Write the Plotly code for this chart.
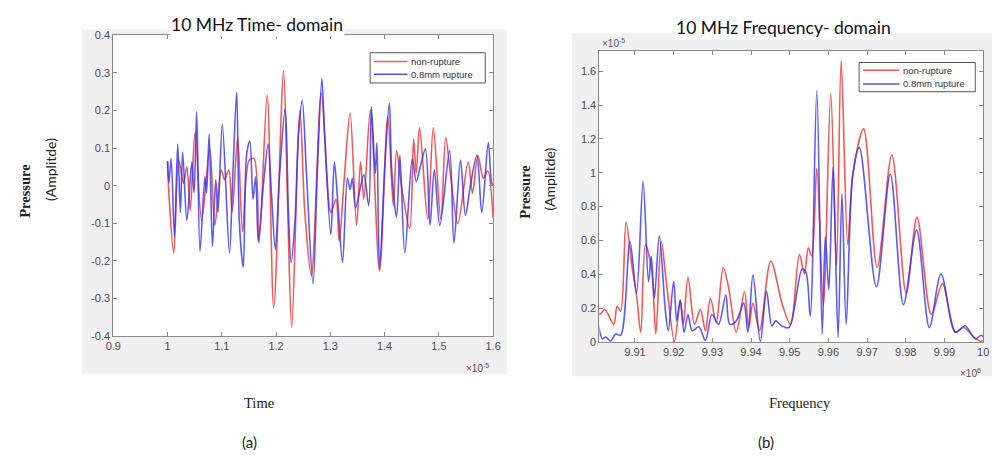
import plotly.graph_objects as go

# ---------------- data: time domain (time in units of 1e-5 s) ----------------
t_red = [1.000, 1.0024, 1.0115, 1.0205, 1.0296, 1.0356, 1.0417, 1.0507, 1.0628, 1.0779,
         1.0870, 1.0990, 1.1051, 1.1129, 1.1190, 1.1292, 1.1383, 1.1504, 1.1594, 1.1685,
         1.1836, 1.1957, 1.2138, 1.2216, 1.2289, 1.2440, 1.2530, 1.2651, 1.2832, 1.2983,
         1.3013, 1.3104, 1.3164, 1.3255, 1.3364, 1.3484, 1.3557, 1.3617, 1.3738, 1.3907,
         1.4058, 1.4161, 1.4221, 1.4312, 1.4463, 1.4535, 1.4583, 1.4644, 1.4795, 1.4897,
         1.5036, 1.5127, 1.5217, 1.5350, 1.5540, 1.5620, 1.5720, 1.5820, 1.5900, 1.6000]
p_red = [0.065, -0.019, -0.179, 0.068, 0.007, 0.050, -0.066, 0.141, -0.092, 0.098,
         -0.105, 0.042, 0.016, 0.042, -0.071, 0.128, -0.122, 0.068, 0.072, -0.153,
         0.240, -0.325, 0.305, -0.070, -0.377, 0.200, -0.071, -0.239, 0.245, -0.058,
         -0.071, -0.036, -0.148, 0.016, 0.193, -0.105, 0.063, -0.036, 0.201, -0.226,
         0.184, -0.053, 0.093, -0.001, -0.114, 0.124, 0.033, 0.154, -0.088, 0.154,
         -0.088, 0.128, 0.025, -0.100, 0.063, -0.020, 0.080, 0.020, 0.040, -0.085]

t_blue = [1.000, 1.0024, 1.0066, 1.0127, 1.0187, 1.0236, 1.0278, 1.0356, 1.0447, 1.0489,
          1.0537, 1.0598, 1.0688, 1.0719, 1.0767, 1.0827, 1.0888, 1.0930, 1.1009, 1.1141,
          1.1202, 1.1274, 1.1323, 1.1395, 1.1456, 1.1516, 1.1576, 1.1624, 1.1673, 1.1775,
          1.1854, 1.1914, 1.1987, 1.2059, 1.2168, 1.2228, 1.2277, 1.2349, 1.2410, 1.2482,
          1.2560, 1.2681, 1.2760, 1.2844, 1.2893, 1.3010, 1.3074, 1.3134, 1.3225, 1.3315,
          1.3364, 1.3406, 1.3466, 1.3617, 1.3708, 1.3756, 1.3829, 1.3859, 1.3907, 1.4010,
          1.4088, 1.4131, 1.4221, 1.4282, 1.4372, 1.4511, 1.4583, 1.4656, 1.4753, 1.4837,
          1.4916, 1.5018, 1.5199, 1.5278, 1.5399, 1.5489, 1.5580, 1.5701, 1.5791, 1.5912,
          1.5972, 1.6000]
p_blue = [0.065, 0.007, 0.072, -0.135, 0.111, -0.071, 0.089, -0.092, 0.063, -0.019,
          0.197, -0.174, 0.024, -0.019, 0.137, -0.161, 0.016, -0.071, 0.163, -0.179,
          0.024, 0.249, -0.096, -0.217, 0.081, 0.119, -0.036, 0.024, -0.148, 0.016,
          0.111, -0.019, -0.170, 0.016, 0.206, -0.071, -0.204, -0.092, 0.128, 0.227,
          0.033, -0.260, 0.033, 0.285, 0.137, -0.130, 0.063, -0.036, -0.204, 0.020,
          -0.010, 0.020, -0.058, 0.029, -0.053, 0.210, 0.033, 0.115, -0.222, 0.068,
          0.219, 0.042, -0.084, 0.081, -0.179, 0.072, 0.011, 0.050, 0.098, -0.105,
          0.042, -0.105, 0.093, -0.153, 0.068, -0.079, -0.001, 0.081, -0.071, 0.115,
          0.007, 0.000]

# ---------------- data: frequency domain (freq in 1e6 Hz, amplitude in 1e-5) ----------------
f_red = [9.9005, 9.9009, 9.9022, 9.9045, 9.9054, 9.9063, 9.9077, 9.9092, 9.9104, 9.9115,
         9.9127, 9.9143, 9.9154, 9.9168, 9.9181, 9.9202, 9.9217, 9.9225, 9.9237, 9.9254,
         9.9269, 9.9282, 9.9295, 9.9310, 9.9328, 9.9341, 9.9362, 9.9383, 9.9394, 9.9405,
         9.9422, 9.9451, 9.9481, 9.9502, 9.9525, 9.9538, 9.9548, 9.9557, 9.9570, 9.9587,
         9.9606, 9.9621, 9.9633, 9.9650, 9.9663, 9.9691, 9.9726, 9.9764, 9.9801, 9.9829,
         9.9866, 9.9895, 9.9927, 9.9950, 9.9976, 9.9993, 10.000]
a_red = [0.182, 0.163, 0.192, 0.105, 0.211, 0.182, 0.709, 0.450, 0.278, 0.058,
         0.575, 0.431, 0.048, 0.594, 0.355, 0.005, 0.240, 0.105, 0.383, 0.105,
         0.192, 0.067, 0.259, 0.115, 0.440, 0.335, 0.058, 0.297, 0.086, 0.230,
         0.067, 0.479, 0.221, 0.105, 0.517, 0.402, 0.556, 0.508, 1.025, 0.221,
         1.469, 0.450, 1.661, 0.575, 0.987, 1.259, 0.440, 1.105, 0.288, 0.738,
         0.163, 0.345, 0.058, 0.086, 0.029, 0.005, 0.010]

f_blue = [9.9005, 9.9016, 9.9025, 9.9037, 9.9050, 9.9063, 9.9087, 9.9104, 9.9121, 9.9135,
          9.9142, 9.9150, 9.9163, 9.9178, 9.9186, 9.9200, 9.9208, 9.9217, 9.9227, 9.9237,
          9.9248, 9.9265, 9.9282, 9.9299, 9.9316, 9.9335, 9.9345, 9.9362, 9.9381, 9.9392,
          9.9405, 9.9424, 9.9440, 9.9454, 9.9464, 9.9479, 9.9498, 9.9532, 9.9542, 9.9553,
          9.9570, 9.9584, 9.9592, 9.9601, 9.9612, 9.9625, 9.9635, 9.9646, 9.9663, 9.9680,
          9.9724, 9.9760, 9.9794, 9.9828, 9.9861, 9.9891, 9.9929, 9.9953, 9.9980, 9.9995,
          10.000]
a_blue = [0.105, 0.020, 0.030, 0.006, 0.048, 0.040, 0.594, 0.288, 0.948, 0.355,
          0.508, 0.259, 0.627, 0.201, 0.067, 0.358, 0.125, 0.249, 0.058, 0.163,
          0.067, 0.090, 0.010, 0.163, 0.105, 0.278, 0.105, 0.125, 0.230, 0.058,
          0.397, 0.003, 0.301, 0.096, 0.125, 0.096, 0.086, 0.431, 0.412, 0.153,
          1.485, 0.048, 0.623, 0.307, 1.035, 0.029, 0.876, 0.105, 0.987, 1.150,
          0.326, 0.991, 0.221, 0.661, 0.086, 0.402, 0.058, 0.096, 0.020, 0.040,
          0.030]

series_names = ["non-rupture", "0.8mm rupture"]
time_ticks = [0.9, 1.0, 1.1, 1.2, 1.3, 1.4, 1.5, 1.6]
time_ticktext = ["0.9", "1", "1.1", "1.2", "1.3", "1.4", "1.5", "1.6"]
p_ticks = [-0.4, -0.3, -0.2, -0.1, 0, 0.1, 0.2, 0.3, 0.4]
p_ticktext = ["-0.4", "-0.3", "-0.2", "-0.1", "0", "0.1", "0.2", "0.3", "0.4"]
f_ticks = [9.91, 9.92, 9.93, 9.94, 9.95, 9.96, 9.97, 9.98, 9.99, 10.0]
f_ticktext = ["9.91", "9.92", "9.93", "9.94", "9.95", "9.96", "9.97", "9.98", "9.99", "10"]
a_ticks = [0, 0.2, 0.4, 0.6, 0.8, 1.0, 1.2, 1.4, 1.6]
a_ticktext = ["0", "0.2", "0.4", "0.6", "0.8", "1", "1.2", "1.4", "1.6"]

RED = "#f03c3c"
BLUE = "#3434f0"
W, H = 1000, 464

def px(x):
    return x / W

def py(y):
    return 1 - y / H

fig = go.Figure()

line_kw = dict(shape="spline", smoothing=0.9, width=1.6)
fig.add_trace(go.Scatter(x=t_red, y=p_red, mode="lines", name=series_names[0],
                         line=dict(color=RED, **line_kw), opacity=0.85,
                         xaxis="x", yaxis="y", showlegend=False))
fig.add_trace(go.Scatter(x=t_blue, y=p_blue, mode="lines", name=series_names[1],
                         line=dict(color=BLUE, **line_kw), opacity=0.8,
                         xaxis="x", yaxis="y", showlegend=False))
fig.add_trace(go.Scatter(x=f_red, y=a_red, mode="lines", name=series_names[0],
                         line=dict(color=RED, **line_kw), opacity=0.85,
                         xaxis="x2", yaxis="y2", showlegend=False))
fig.add_trace(go.Scatter(x=f_blue, y=a_blue, mode="lines", name=series_names[1],
                         line=dict(color=BLUE, **line_kw), opacity=0.8,
                         xaxis="x2", yaxis="y2", showlegend=False))

tickfont = dict(family="Liberation Sans, Arial", size=11, color="#4d4d4d")
axis_common = dict(showline=True, linecolor="#8a8a8a", linewidth=1, mirror="allticks",
                   ticks="inside", ticklen=4, tickcolor="#8a8a8a", showgrid=False,
                   zeroline=False, tickfont=tickfont, tickmode="array")

fig.update_layout(
    width=W, height=H, margin=dict(l=0, r=0, t=0, b=0),
    paper_bgcolor="white", plot_bgcolor="white", showlegend=False,
    xaxis=dict(domain=[px(107), px(493)], range=[0.9, 1.6], anchor="y",
               tickvals=time_ticks, ticktext=time_ticktext, **axis_common),
    yaxis=dict(domain=[py(339), py(30)], range=[-0.4, 0.4], anchor="x",
               tickvals=p_ticks, ticktext=p_ticktext, **axis_common),
    xaxis2=dict(domain=[px(601), px(991)], range=[9.9008, 10.0], anchor="y2",
                tickvals=f_ticks, ticktext=f_ticktext, **axis_common),
    yaxis2=dict(domain=[py(345), py(46)], range=[0, 1.72], anchor="x2",
                tickvals=a_ticks, ticktext=a_ticktext, **axis_common),
)

# gray figure panels with white plot areas, plus compact MATLAB-style legend boxes
legend_boxes = [  # (x0, y0, x1, y1, line_x0, line_x1, row1_y, row2_y)
    (368, 48, 485, 79, 372, 406, 57, 70),
    (865, 58, 983, 88, 869, 906, 66, 80),
]
shapes = [
    dict(type="rect", xref="paper", yref="paper", x0=px(75), x1=px(507), y0=py(378), y1=py(24),
         fillcolor="#f0f0f0", line=dict(width=0), layer="below"),
    dict(type="rect", xref="paper", yref="paper", x0=px(573), x1=px(1000), y0=py(380), y1=py(28),
         fillcolor="#f0f0f0", line=dict(width=0), layer="below"),
    dict(type="rect", xref="paper", yref="paper", x0=px(107), x1=px(493), y0=py(339), y1=py(30),
         fillcolor="white", line=dict(width=0), layer="below"),
    dict(type="rect", xref="paper", yref="paper", x0=px(601), x1=px(991), y0=py(345), y1=py(46),
         fillcolor="white", line=dict(width=0), layer="below"),
]
annotations = []
legend_font = dict(family="Liberation Sans, Arial", size=9.5, color="#333333")
for (bx0, by0, bx1, by1, lx0, lx1, r1, r2) in legend_boxes:
    shapes.append(dict(type="rect", xref="paper", yref="paper", x0=px(bx0), x1=px(bx1),
                       y0=py(by1), y1=py(by0), fillcolor="white",
                       line=dict(color="#555555", width=1), layer="above"))
    for ry, col, name in ((r1, RED, series_names[0]), (r2, BLUE, series_names[1])):
        shapes.append(dict(type="line", xref="paper", yref="paper", x0=px(lx0), x1=px(lx1),
                           y0=py(ry), y1=py(ry), line=dict(color=col, width=1.4),
                           opacity=0.85, layer="above"))
        annotations.append(dict(text=name, x=px(lx1 + 2), y=py(ry), xanchor="left",
                                yanchor="middle", font=legend_font))
fig.update_layout(shapes=shapes)

title_font = dict(family="Lato, Noto Sans", size=17.5, color="#111111")
serif_font = dict(family="Liberation Serif, Times New Roman", size=14.5, color="#222222")
sans_font = dict(family="Lato, Noto Sans", size=14, color="#222222")
small_font = dict(family="Liberation Sans, Arial", size=10, color="#555555")
ab_font = dict(family="Lato, Noto Sans", size=15, color="#222222")

annotations += [
    dict(text="10 MHz Time- domain", x=px(253), y=py(19), font=title_font, bgcolor="white"),
    dict(text="10 MHz Frequency- domain", x=px(788), y=py(22), font=title_font, bgcolor="white"),
    dict(text="<b>Pressure</b>", x=px(17), y=py(190), textangle=-90, font=serif_font),
    dict(text="(Amplitde)", x=px(43), y=py(168), textangle=-90, font=sans_font),
    dict(text="<b>Pressure</b>", x=px(525), y=py(191), textangle=-90, font=serif_font),
    dict(text="(Amplitde)", x=px(550), y=py(178), textangle=-90, font=sans_font),
    dict(text="Time", x=px(255), y=py(408), font=serif_font),
    dict(text="Frequency", x=px(805), y=py(408), font=serif_font),
    dict(text="(a)", x=px(245), y=py(448), font=ab_font),
    dict(text="(b)", x=px(770), y=py(448), font=ab_font),
    dict(text="×10<sup>-5</sup>", x=px(477), y=py(372), font=small_font),
    dict(text="×10<sup>-5</sup>", x=px(615), y=py(38), font=small_font),
    dict(text="×10<sup>6</sup>", x=px(978), y=py(377), font=small_font),
]
for a in annotations:
    a.update(xref="paper", yref="paper", showarrow=False)
    a.setdefault("xanchor", "center")
    a.setdefault("yanchor", "middle")
fig.update_layout(annotations=annotations)

fig.write_html("out.html")
